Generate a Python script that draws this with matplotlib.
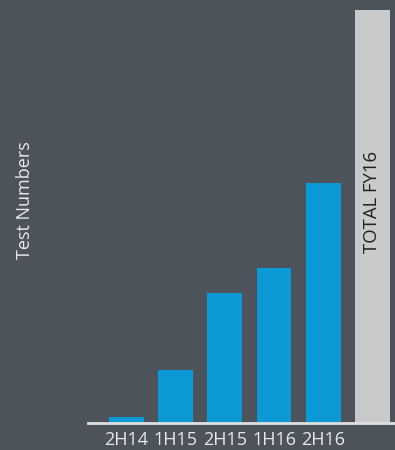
import matplotlib
matplotlib.use("Agg")
import matplotlib.pyplot as plt

categories = ["2H14", "1H15", "2H15", "1H16", "2H16"]
values = [6, 53, 130, 155, 240]
total_label = "TOTAL FY16"
total_value = 413

BG = "#4d535a"
BLUE = "#0b9ad6"
GREY = "#c9cacc"

plt.rcParams['font.family'] = ['Open Sans', 'DejaVu Sans']

fig = plt.figure(figsize=(3.95, 4.5), dpi=100, facecolor=BG)
ax = fig.add_axes([88/395, 27/450, 1 - 88/395, 423/450])
ax.set_facecolor(BG)

x = list(range(len(categories)))
ax.bar(x, values, width=0.71, color=BLUE, zorder=2)
ax.bar([len(categories)], [total_value], width=0.71, color=GREY, zorder=2)
ax.text(len(categories), 221, total_label, rotation=90, ha='center', va='center',
        color='#222222', fontsize=13.3, zorder=3)

ax.set_xlim(-0.78, 5.46)
ax.set_ylim(0, 423)
ax.set_xticks(x)
ax.set_xticklabels(categories, color='#e8e8e8', fontsize=13)
ax.tick_params(axis='x', length=0, pad=6)
ax.set_yticks([])
for s in ['top', 'right', 'left']:
    ax.spines[s].set_visible(False)
ax.spines['bottom'].set_color('#e0e0e0')
ax.spines['bottom'].set_linewidth(2)
ax.spines['bottom'].set_zorder(4)

fig.text(25/395, 1 - 200/450, "Test Numbers", rotation=90, ha='center', va='center',
         color='#e8e8e8', fontsize=13)

fig.savefig("out.png", dpi=100, facecolor=BG)
